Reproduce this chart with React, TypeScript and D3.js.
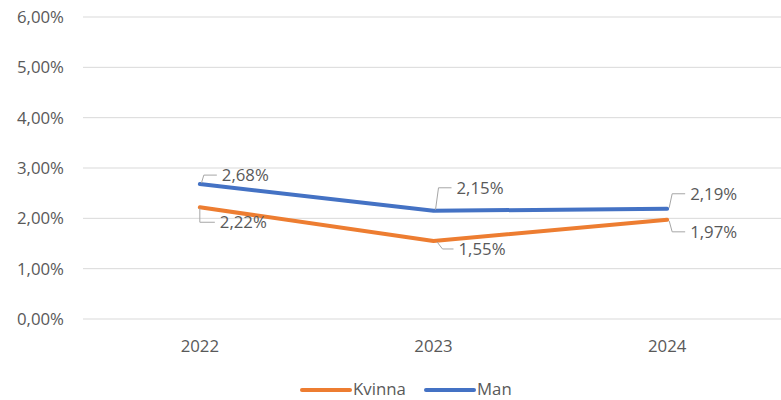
import React from 'react';
import * as d3 from 'd3';

const years = ['2022', '2023', '2024'];
const kvinna = [2.22, 1.55, 1.97];
const man = [2.68, 2.15, 2.19];
const yTicks = [0, 1, 2, 3, 4, 5, 6];

// label placement relative to the point: [cornerDx, labelDx, labelDy]
const kvinnaLabelPos = [[0, 20, 15], [9, 25, 8], [5, 23, 12]];
const manLabelPos = [[4, 22, -9], [5, 23, -23], [5, 23, -15]];

const fmt = (v: number) => v.toFixed(2).replace('.', ',') + '%';

const W = 781;
const H = 400;

export default function App() {
  const x = d3.scaleBand<string>().domain(years).range([83, 784]);
  const y = d3.scaleLinear().domain([0, 6]).range([319, 17]);
  const cx = (d: string) => (x(d) as number) + x.bandwidth() / 2;

  const line = d3
    .line<number>()
    .x((d, i) => cx(years[i]))
    .y(d => y(d));

  const font = "'Open Sans', sans-serif";
  const fs = 16.8;
  const textColor = '#595959';

  const series = [
    { name: 'Kvinna', values: kvinna, color: '#ED7D31', pos: kvinnaLabelPos },
    { name: 'Man', values: man, color: '#4472C4', pos: manLabelPos },
  ];

  const legendY = 389;

  return (
    <svg width={W} height={H} style={{ position: 'absolute', left: 0, top: 0, background: '#fff' }}>
      <rect width={W} height={H} fill="#fff" />
      {/* grid + y axis */}
      {yTicks.map(t => (
        <g key={t}>
          <line x1={83} x2={W} y1={y(t)} y2={y(t)} stroke="#d9d9d9" strokeWidth={1} />
          <text x={64} y={y(t)} dy="0.35em" textAnchor="end" fontFamily={font} fontSize={fs} fill={textColor}>
            {fmt(t)}
          </text>
        </g>
      ))}
      {/* x axis labels */}
      {years.map(d => (
        <text key={d} x={cx(d)} y={346} dy="0.35em" textAnchor="middle" fontFamily={font} fontSize={fs} fill={textColor}>
          {d}
        </text>
      ))}
      {/* lines */}
      {series.map(s => (
        <path key={s.name} d={line(s.values) as string} fill="none" stroke={s.color} strokeWidth={4} strokeLinejoin="round" strokeLinecap="round" />
      ))}
      {/* data labels */}
      {series.map(s =>
        s.values.map((v, i) => {
          const px = cx(years[i]);
          const py = y(v);
          const [cdx, ldx, ldy] = s.pos[i];
          const ly = py + ldy;
          return (
            <g key={s.name + i}>
              <path
                d={`M${px + (cdx > 2 ? cdx * 0.4 : cdx)},${py + (ldy > 0 ? 1 : -1)} L${px + cdx},${ly} L${px + ldx - 5},${ly}`}
                fill="none"
                stroke="#a6a6a6"
                strokeWidth={1}
              />
              <text x={px + ldx} y={ly} dy="0.35em" fontFamily={font} fontSize={fs} fill={textColor}>
                {fmt(v)}
              </text>
            </g>
          );
        })
      )}
      {/* legend */}
      {series.map((s, i) => {
        const lx = 302 + i * 124;
        return (
          <g key={s.name}>
            <line x1={lx} x2={lx + 48} y1={legendY + 1} y2={legendY + 1} stroke={s.color} strokeWidth={4} strokeLinecap="round" />
            <text x={lx + 51} y={legendY} dy="0.35em" fontFamily={font} fontSize={fs} fill={textColor}>
              {s.name}
            </text>
          </g>
        );
      })}
    </svg>
  );
}
